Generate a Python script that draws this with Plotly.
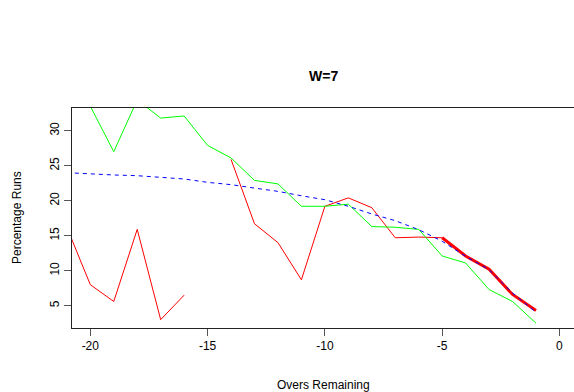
import plotly.graph_objects as go

overs = list(range(-21, 0))
red_runs = [16.2, 8.0, 5.6, 15.9, 3.0, 6.5, None, 25.9, 16.7, 14.0, 8.7,
            19.2, 20.4, 19.0, 14.7, 14.8, 14.7, 12.1, 10.2, 6.6, 4.3]
green_runs = [35.0, 33.5, 27.0, 34.4, 31.8, 32.1, 27.9, 26.1, 22.9, 22.4, 19.2,
              19.2, 19.5, 16.3, 16.2, 15.9, 12.1, 11.1, 7.3, 5.6, 2.5]
blue_runs = [24.0, 23.8, 23.67, 23.57, 23.38, 23.1, 22.62, 22.29, 21.8, 21.33, 20.7,
             20.14, 19.2, 18.1, 17.14, 15.86, 14.2, 12.05, 10.14, 6.81, 4.05]
recent_overs = [-5, -4, -3, -2, -1]
recent_runs = [14.7, 12.1, 10.2, 6.6, 4.3]

x_ticks = [-20, -15, -10, -5, 0]
y_ticks = [5, 10, 15, 20, 25, 30]

FONT = "Liberation Sans, Arial, sans-serif"

fig = go.Figure()
fig.add_trace(go.Scatter(x=overs, y=red_runs, mode="lines", connectgaps=False,
                         line=dict(color="#FF0000", width=1)))
fig.add_trace(go.Scatter(x=overs, y=green_runs, mode="lines",
                         line=dict(color="#00FF00", width=1)))
fig.add_trace(go.Scatter(x=recent_overs, y=recent_runs, mode="lines",
                         line=dict(color="#FF0000", width=3)))
fig.add_trace(go.Scatter(x=overs, y=blue_runs, mode="lines",
                         line=dict(color="#0000FF", width=1, dash="4px,4px")))

fig.update_layout(
    width=574, height=392,
    margin=dict(l=72, r=0, t=108, b=64),
    paper_bgcolor="white", plot_bgcolor="white",
    showlegend=False,
    font=dict(family=FONT, size=12, color="#000000"),
)
fig.update_xaxes(
    range=[-20.78, 0.62], tickvals=x_ticks, ticktext=[str(v) for v in x_ticks],
    showgrid=False, zeroline=False,
    showline=True, mirror=True, linecolor="#222222", linewidth=1,
    ticks="outside", ticklen=7, tickcolor="#555555",
    tickfont=dict(family=FONT, size=12, color="#000000"),
)
fig.update_yaxes(
    range=[1.81, 33.24], tickvals=y_ticks, ticktext=[str(v) for v in y_ticks],
    showgrid=False, zeroline=False,
    showline=True, mirror=False, linecolor="#222222", linewidth=1,
    ticks="outside", ticklen=7, tickcolor="#555555", tickangle=-90,
    tickfont=dict(family=FONT, size=12, color="#000000"),
)
fig.add_annotation(text="<b>W=7</b>", xref="paper", yref="paper", x=0.5, y=1,
                   yshift=32, showarrow=False, xanchor="center", yanchor="middle",
                   font=dict(family=FONT, size=14, color="#000000"))
fig.add_annotation(text="Overs Remaining", xref="paper", yref="paper", x=0.5, y=0,
                   yshift=-57, showarrow=False, xanchor="center", yanchor="middle",
                   font=dict(family=FONT, size=12, color="#000000"))
fig.add_annotation(text="Percentage Runs", xref="paper", yref="paper", x=0, y=0.5,
                   xshift=-55, showarrow=False, xanchor="center", yanchor="middle",
                   textangle=-90, font=dict(family=FONT, size=12, color="#000000"))

fig.write_html("out.html")
